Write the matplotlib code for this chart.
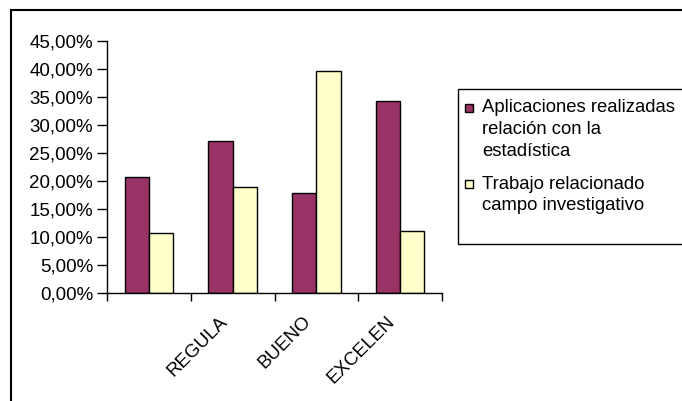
import matplotlib
matplotlib.use("Agg")
import matplotlib.pyplot as plt
from matplotlib.patches import Rectangle
from matplotlib.ticker import FuncFormatter
from matplotlib.transforms import ScaledTranslation, blended_transform_factory
import numpy as np

categories = ["", "REGULA", "BUENO", "EXCELEN"]
series_lines = [["Aplicaciones realizadas", "relación con la", "estadística"],
                ["Trabajo relacionado", "campo investigativo"]]
aplicaciones = [0.207, 0.272, 0.178, 0.343]
trabajo = [0.108, 0.189, 0.396, 0.110]
colors = ["#993366", "#FFFFCC"]

plt.rcParams['font.family'] = ['Liberation Sans', 'DejaVu Sans']

W, H = 682, 401
fig = plt.figure(figsize=(W / 100, H / 100), dpi=100)

def fx(px):
    return px / W

def fy(py):
    return 1 - py / H

# outer chart frame (extends past right/bottom edges)
fig.patches.append(Rectangle((fx(11), -0.1), 1.2, fy(10) + 0.1, transform=fig.transFigure,
                             fill=False, edgecolor="black", linewidth=1.5))

ax = fig.add_axes([fx(107), fy(293), fx(442 - 107), (293 - 41) / H])
x = np.arange(len(categories))
bw = 0.29
ax.bar(x - bw / 2, aplicaciones, bw, color=colors[0], edgecolor="black", linewidth=1)
ax.bar(x + bw / 2, trabajo, bw, color=colors[1], edgecolor="black", linewidth=1)

ax.set_xlim(-0.5, len(categories) - 0.5)
ax.set_ylim(0, 0.45)
ax.set_yticks(np.arange(0, 0.4501, 0.05))
ax.yaxis.set_major_formatter(FuncFormatter(lambda v, p: f"{v*100:.2f}%".replace(".", ",")))
ax.set_xticks(np.arange(-0.5, len(categories), 1.0))
ax.set_xticklabels([])
ax.tick_params(axis="x", which="major", length=6, width=1, direction="out")
ax.tick_params(axis="y", length=7, width=1, direction="out", labelsize=13.5, pad=3)
for s in ["top", "right"]:
    ax.spines[s].set_visible(False)
for s in ["left", "bottom"]:
    ax.spines[s].set_linewidth(1)

# rotated category labels
base = blended_transform_factory(ax.transData, ax.transAxes)
off = ScaledTranslation(-14 / 100, -20 / 100, fig.dpi_scale_trans)
for xi, cat in zip(x, categories):
    ax.text(xi, 0, cat, transform=base + off, rotation=45, ha="right", va="top",
            rotation_mode="anchor", fontsize=13.5, clip_on=False)

# legend box (drawn manually)
fig.patches.append(Rectangle((fx(458), fy(244)), 0.5, (244 - 89) / H, transform=fig.transFigure,
                             fill=False, edgecolor="black", linewidth=1))
entry_tops = [108, 184]
line_gap = 22
for color, lines, yc in zip(colors, series_lines, entry_tops):
    fig.patches.append(Rectangle((fx(465), fy(yc + 4)), 8 / W, 8 / H, transform=fig.transFigure,
                                 facecolor=color, edgecolor="black", linewidth=1))
    for i, line in enumerate(lines):
        fig.text(fx(482), fy(yc + i * line_gap), line, fontsize=13.3, ha="left", va="center")

fig.savefig("out.png", dpi=100)
